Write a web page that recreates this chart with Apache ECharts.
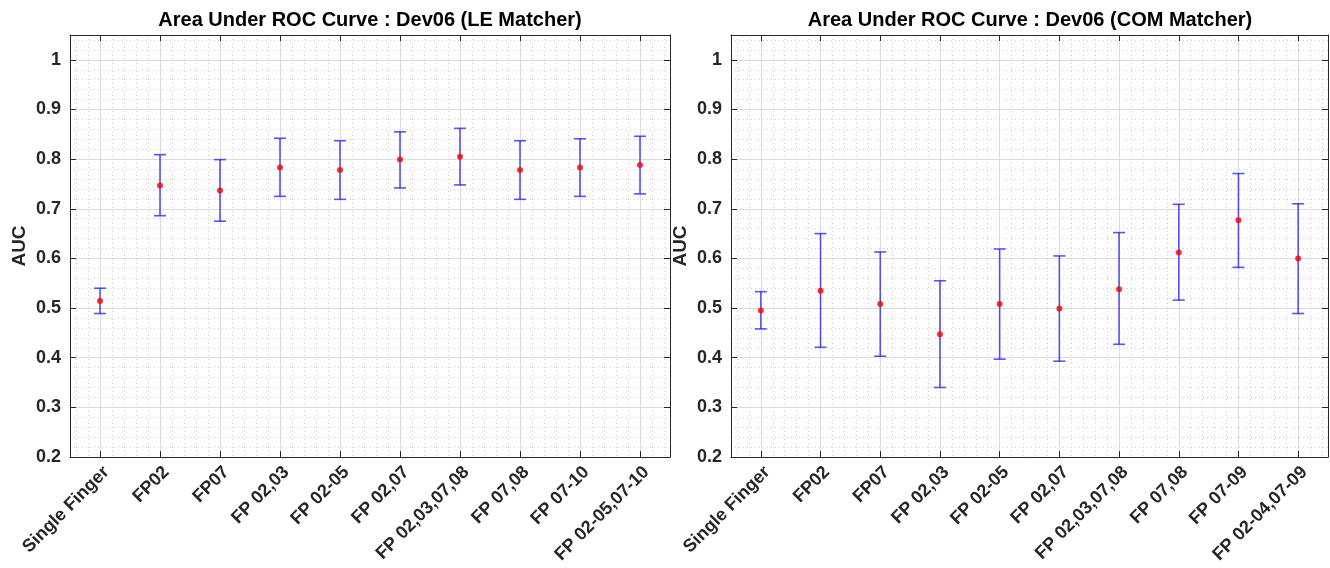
<!DOCTYPE html>
<html>
<head>
<meta charset="utf-8">
<script src="https://cdn.jsdelivr.net/npm/echarts@6/dist/echarts.min.js"></script>
<style>
  html, body { margin: 0; padding: 0; background: #fff; }
  #contain { width: 1330px; height: 568px; }
</style>
</head>
<body>
<div id="contain"></div>
<script>
// categories for the two panels
let leCategories = ['Single Finger', 'FP02', 'FP07', 'FP 02,03', 'FP 02-05', 'FP 02,07', 'FP 02,03,07,08', 'FP 07,08', 'FP 07-10', 'FP 02-05,07-10'];
let comCategories = ['Single Finger', 'FP02', 'FP07', 'FP 02,03', 'FP 02-05', 'FP 02,07', 'FP 02,03,07,08', 'FP 07,08', 'FP 07-09', 'FP 02-04,07-09'];

// AUC mean and confidence bounds (LE matcher)
let leMean = [0.514, 0.747, 0.737, 0.783, 0.778, 0.799, 0.805, 0.778, 0.783, 0.788];
let leLow  = [0.489, 0.686, 0.675, 0.725, 0.719, 0.742, 0.748, 0.719, 0.725, 0.730];
let leHigh = [0.540, 0.809, 0.799, 0.842, 0.837, 0.855, 0.862, 0.837, 0.841, 0.846];

// AUC mean and confidence bounds (COM matcher)
let comMean = [0.495, 0.535, 0.508, 0.447, 0.508, 0.499, 0.538, 0.612, 0.677, 0.600];
let comLow  = [0.458, 0.421, 0.403, 0.340, 0.397, 0.393, 0.427, 0.516, 0.582, 0.489];
let comHigh = [0.533, 0.650, 0.613, 0.555, 0.619, 0.605, 0.652, 0.709, 0.771, 0.710];

let txt = '#262626';
let font = "'Liberation Sans', Arial, sans-serif";

function errData(low, high) {
    return low.map(function (v, i) { return [i + 1, v, high[i]]; });
}
function meanData(mean) {
    return mean.map(function (v, i) { return [i + 1, v]; });
}

function renderErr(params, api) {
    let x = api.value(0);
    let top = api.coord([x, api.value(2)]);
    let bot = api.coord([x, api.value(1)]);
    let w = 6;
    let style = { stroke: 'rgba(30,30,255,0.75)', lineWidth: 1.6 };
    return {
        type: 'group',
        children: [
            { type: 'line', shape: { x1: top[0], y1: top[1], x2: bot[0], y2: bot[1] }, style: style },
            { type: 'line', shape: { x1: top[0] - w, y1: top[1], x2: top[0] + w, y2: top[1] }, style: style },
            { type: 'line', shape: { x1: bot[0] - w, y1: bot[1], x2: bot[0] + w, y2: bot[1] }, style: style }
        ]
    };
}

function xAxisFor(gi, cats) {
    return {
        type: 'value', gridIndex: gi, min: 0.5, max: 10.5,
        splitNumber: 10, minInterval: 1, maxInterval: 1,
        axisLine: { show: true, lineStyle: { color: txt, width: 1 } },
        axisTick: { show: true, inside: true, length: 6, lineStyle: { color: txt } },
        axisLabel: {
            rotate: 45, margin: 6, color: txt, fontSize: 18, fontWeight: 'bold', fontFamily: font,
            verticalAlign: 'top',
            showMinLabel: false, showMaxLabel: false,
            formatter: function (v) {
                if (Math.abs(v - Math.round(v)) > 1e-6) return '';
                return cats[Math.round(v) - 1] || '';
            }
        },
        splitLine: { show: true, lineStyle: { color: '#dcdcdc', width: 1 } },
        minorTick: { show: false, splitNumber: 5 },
        minorSplitLine: { show: true, lineStyle: { color: '#cfcfcf', type: [1, 3], width: 1 } }
    };
}
function xTopFor(gi) {
    return {
        type: 'value', gridIndex: gi, position: 'top', min: 0.5, max: 10.5,
        splitNumber: 10, minInterval: 1, maxInterval: 1,
        axisLine: { show: true, lineStyle: { color: txt, width: 1 } },
        axisTick: { show: true, inside: true, length: 6, lineStyle: { color: txt } },
        axisLabel: { show: false },
        splitLine: { show: false }
    };
}
function yAxisFor(gi) {
    return {
        type: 'value', gridIndex: gi, min: 0.2, max: 1.05, interval: 0.1,
        name: 'AUC', nameLocation: 'middle', nameRotate: 90, nameGap: 41,
        nameTextStyle: { color: txt, fontSize: 19, fontWeight: 'bold', fontFamily: font },
        axisLine: { show: true, lineStyle: { color: txt, width: 1 } },
        axisTick: { show: true, inside: true, length: 6, lineStyle: { color: txt } },
        axisLabel: {
            color: txt, fontSize: 18, fontWeight: 'bold', fontFamily: font, margin: 9,
            showMaxLabel: false,
            formatter: function (v) { return String(+v.toFixed(2)); }
        },
        splitLine: { show: true, lineStyle: { color: '#dcdcdc', width: 1 } },
        minorTick: { show: false, splitNumber: 5 },
        minorSplitLine: { show: true, lineStyle: { color: '#cfcfcf', type: [1, 3], width: 1 } }
    };
}
function yRightFor(gi) {
    return {
        type: 'value', gridIndex: gi, position: 'right', min: 0.2, max: 1.05, interval: 0.1,
        axisLine: { show: true, lineStyle: { color: txt, width: 1 } },
        axisTick: { show: true, inside: true, length: 6, lineStyle: { color: txt } },
        axisLabel: { show: false },
        splitLine: { show: false }
    };
}

let chart = echarts.init(document.getElementById('contain'));
let option = {
    backgroundColor: '#fff',
    animation: false,
    title: [
        { text: 'Area Under ROC Curve : Dev06 (LE Matcher)', left: 365, top: 5, textAlign: 'center',
          textStyle: { color: '#000', fontSize: 20, fontWeight: 'bold', fontFamily: font } },
        { text: 'Area Under ROC Curve : Dev06 (COM Matcher)', left: 1025, top: 5, textAlign: 'center',
          textStyle: { color: '#000', fontSize: 20, fontWeight: 'bold', fontFamily: font } }
    ],
    grid: [
        { left: 70, top: 35, width: 600, height: 422 },
        { left: 731, top: 35, width: 597, height: 422 }
    ],
    xAxis: [xAxisFor(0, leCategories), xAxisFor(1, comCategories), xTopFor(0), xTopFor(1)],
    yAxis: [yAxisFor(0), yAxisFor(1), yRightFor(0), yRightFor(1)],
    series: [
        { type: 'custom', name: 'LE err', xAxisIndex: 0, yAxisIndex: 0, renderItem: renderErr,
          data: errData(leLow, leHigh), z: 3 },
        { type: 'scatter', name: 'LE', xAxisIndex: 0, yAxisIndex: 0, symbol: 'circle', symbolSize: 6,
          itemStyle: { color: '#ff0000' }, data: meanData(leMean), z: 4 },
        { type: 'custom', name: 'COM err', xAxisIndex: 1, yAxisIndex: 1, renderItem: renderErr,
          data: errData(comLow, comHigh), z: 3 },
        { type: 'scatter', name: 'COM', xAxisIndex: 1, yAxisIndex: 1, symbol: 'circle', symbolSize: 6,
          itemStyle: { color: '#ff0000' }, data: meanData(comMean), z: 4 }
    ]
};
chart.setOption(option);
</script>
</body>
</html>
